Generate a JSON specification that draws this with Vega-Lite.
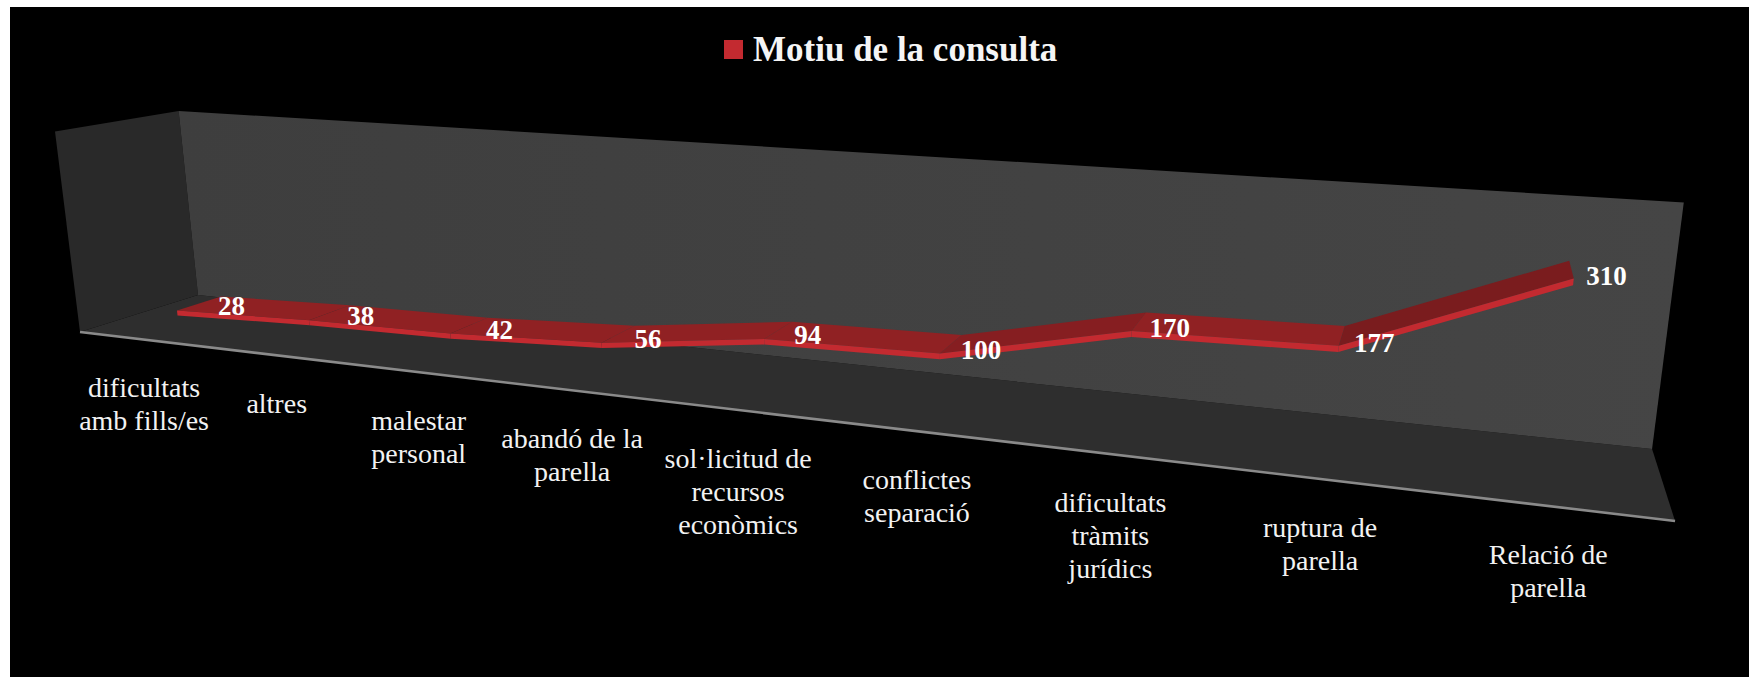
{
"$schema":"https://vega.github.io/schema/vega-lite/v6.json",
"width":1739,"height":670,"autosize":"none","padding":{"left":10,"top":7,"right":0,"bottom":0},
"background":"#ffffff",
"view":{"fill":"#000000","stroke":null},
"config":{"axis":{"grid":false}},
"datasets":{
"motius":[
{"ordre":0,"motiu":"dificultats\namb fills/es","valor":28},
{"ordre":1,"motiu":"altres","valor":38},
{"ordre":2,"motiu":"malestar\npersonal","valor":42},
{"ordre":3,"motiu":"abandó de la\nparella","valor":56},
{"ordre":4,"motiu":"sol·licitud de\nrecursos\neconòmics","valor":94},
{"ordre":5,"motiu":"conflictes\nseparació","valor":100},
{"ordre":6,"motiu":"dificultats\ntràmits\njurídics","valor":170},
{"ordre":7,"motiu":"ruptura de\nparella","valor":177},
{"ordre":8,"motiu":"Relació de\nparella","valor":310}
],
"parets":[
{"pla":"lateral","vertex":0,"c":0,"val":0,"prof":0},
{"pla":"lateral","vertex":1,"c":0,"val":400,"prof":0},
{"pla":"lateral","vertex":2,"c":0,"val":400,"prof":1},
{"pla":"lateral","vertex":3,"c":0,"val":0,"prof":1},
{"pla":"terra","vertex":0,"c":0,"val":0,"prof":0},
{"pla":"terra","vertex":1,"c":9,"val":0,"prof":0},
{"pla":"terra","vertex":2,"c":9,"val":0,"prof":1},
{"pla":"terra","vertex":3,"c":0,"val":0,"prof":1},
{"pla":"fons","vertex":0,"c":0,"val":0,"prof":1},
{"pla":"fons","vertex":1,"c":9,"val":0,"prof":1},
{"pla":"fons","vertex":2,"c":9,"val":400,"prof":1},
{"pla":"fons","vertex":3,"c":0,"val":400,"prof":1}
]
},
"encoding":{
"x":{"field":"X","type":"quantitative","axis":null,"scale":{"domain":[10,1749],"zero":false,"nice":false}},
"y":{"field":"Y","type":"quantitative","axis":null,"scale":{"domain":[677,7],"zero":false,"nice":false}}
},
"layer":[
{"data":{"name":"parets"},
"transform":[{"filter":"datum.pla!='fons'"},
{"calculate":"1-0.2885*datum.c/9-0.031*datum.val/400+0.0924*datum.prof","as":"D"},
{"calculate":"(80+1111.8*datum.c/9-26.7*datum.val/400+136.3*datum.prof)/datum.D","as":"X"},
{"calculate":"(332+38.7*datum.c/9-204.5*datum.val/400-9.74*datum.prof)/datum.D","as":"Y"}],
"mark":{"type":"line","strokeWidth":0},
"encoding":{"order":{"field":"vertex"},"fill":{"field":"pla","type":"nominal","legend":null,"scale":{"domain":["lateral","terra"],"range":["#292929","#2e2e2e"]}}}},
{"data":{"name":"parets"},
"transform":[{"filter":"datum.pla=='fons'"},
{"calculate":"1-0.2885*datum.c/9-0.031*datum.val/400+0.0924*datum.prof","as":"D"},
{"calculate":"(80+1111.8*datum.c/9-26.7*datum.val/400+136.3*datum.prof)/datum.D","as":"X"},
{"calculate":"(332+38.7*datum.c/9-204.5*datum.val/400-9.74*datum.prof)/datum.D","as":"Y"}],
"mark":{"type":"line","strokeWidth":0,"fill":{"x1":0,"y1":0,"x2":1,"y2":0,"gradient":"linear","stops":[{"offset":0,"color":"#3e3e3e"},{"offset":1,"color":"#454545"}]}},
"encoding":{"order":{"field":"vertex"}}},
{"data":{"name":"parets"},
"transform":[{"filter":"datum.pla=='terra'&&datum.vertex<2"},
{"calculate":"1-0.2885*datum.c/9-0.031*datum.val/400+0.0924*datum.prof","as":"D"},
{"calculate":"(80+1111.8*datum.c/9-26.7*datum.val/400+136.3*datum.prof)/datum.D","as":"X"},
{"calculate":"(332+38.7*datum.c/9-204.5*datum.val/400-9.74*datum.prof)/datum.D","as":"Y"}],
"mark":{"type":"line","stroke":"#8a8a8a","strokeWidth":2.6},
"encoding":{"order":{"field":"vertex"}}},
{"data":{"name":"motius"},
"transform":[
{"window":[{"op":"lead","field":"valor","as":"valorSeg"}],"sort":[{"field":"ordre"}]},
{"filter":"datum.valorSeg!=null"},
{"calculate":"[0,1,2,3]","as":"vertex"},{"flatten":["vertex"]},
{"calculate":"datum.ordre+0.5+((datum.vertex==1||datum.vertex==2)?1:0)","as":"c"},
{"calculate":"((datum.vertex==1||datum.vertex==2)?datum.valorSeg:datum.valor)+8","as":"val"},
{"calculate":"datum.vertex<2?0.286:0.67","as":"prof"},
{"calculate":"1-0.2885*datum.c/9-0.031*datum.val/400+0.0924*datum.prof","as":"D"},
{"calculate":"(80+1111.8*datum.c/9-26.7*datum.val/400+136.3*datum.prof)/datum.D","as":"X"},
{"calculate":"(332+38.7*datum.c/9-204.5*datum.val/400-9.74*datum.prof)/datum.D","as":"Y"}],
"mark":{"type":"line","strokeWidth":0},
"encoding":{"order":{"field":"vertex"},"detail":{"field":"ordre"},
"fill":{"field":"ordre","type":"nominal","legend":null,"scale":{"domain":[0,1,2,3,4,5,6,7],"range":["#902123","#902123","#902123","#902123","#902123","#861e21","#902123","#7a1c1e"]}}}},
{"data":{"name":"motius"},
"transform":[
{"window":[{"op":"lead","field":"valor","as":"valorSeg"}],"sort":[{"field":"ordre"}]},
{"filter":"datum.valorSeg!=null"},
{"calculate":"[0,1,2,3]","as":"vertex"},{"flatten":["vertex"]},
{"calculate":"datum.ordre+0.5+((datum.vertex==1||datum.vertex==2)?1:0)","as":"c"},
{"calculate":"((datum.vertex==1||datum.vertex==2)?datum.valorSeg:datum.valor)+(datum.vertex<2?8:-2)","as":"val"},
{"calculate":"0.286","as":"prof"},
{"calculate":"1-0.2885*datum.c/9-0.031*datum.val/400+0.0924*datum.prof","as":"D"},
{"calculate":"(80+1111.8*datum.c/9-26.7*datum.val/400+136.3*datum.prof)/datum.D","as":"X"},
{"calculate":"(332+38.7*datum.c/9-204.5*datum.val/400-9.74*datum.prof)/datum.D","as":"Y"}],
"mark":{"type":"line","strokeWidth":0},
"encoding":{"order":{"field":"vertex"},"detail":{"field":"ordre"},
"fill":{"datum":"Motiu de la consulta","type":"nominal","scale":{"range":["#c32a30"]},
"legend":{"title":null,"orient":"none","legendX":706,"legendY":25,"symbolType":"square","symbolSize":361,"symbolStrokeWidth":0,"labelFont":"Liberation Serif","labelFontWeight":"bold","labelFontSize":35,"labelColor":"#f5f5f5","labelLimit":500,"labelOffset":2}}}},
{"data":{"name":"motius"},
"transform":[
{"calculate":"datum.ordre+0.5","as":"c"},
{"calculate":"1-0.2885*datum.c/9","as":"D"},
{"calculate":"(80+1111.8*datum.c/9)/datum.D-min(5,2*datum.ordre)","as":"X"},
{"calculate":"(332+38.7*datum.c/9)/datum.D","as":"Y"}],
"mark":{"type":"text","font":"Liberation Serif","fontSize":28,"color":"#f2f2f2","baseline":"top","align":"center","lineBreak":"\n","lineHeight":33,"dy":35},
"encoding":{"text":{"field":"motiu","type":"nominal"}}},
{"data":{"name":"motius"},
"transform":[
{"calculate":"datum.ordre+0.5","as":"c"},
{"calculate":"datum.valor","as":"val"},
{"calculate":"0.286","as":"prof"},
{"calculate":"1-0.2885*datum.c/9-0.031*datum.val/400+0.0924*datum.prof","as":"D"},
{"calculate":"(80+1111.8*datum.c/9-26.7*datum.val/400+136.3*datum.prof)/datum.D+54-2.6*datum.ordre","as":"X"},
{"calculate":"(332+38.7*datum.c/9-204.5*datum.val/400-9.74*datum.prof)/datum.D-7","as":"Y"}],
"mark":{"type":"text","font":"Liberation Serif","fontWeight":"bold","fontSize":27,"color":"#ffffff","baseline":"middle","align":"center"},
"encoding":{"text":{"field":"valor","type":"quantitative"}}}
],
"resolve":{"scale":{"fill":"independent"}}
}
